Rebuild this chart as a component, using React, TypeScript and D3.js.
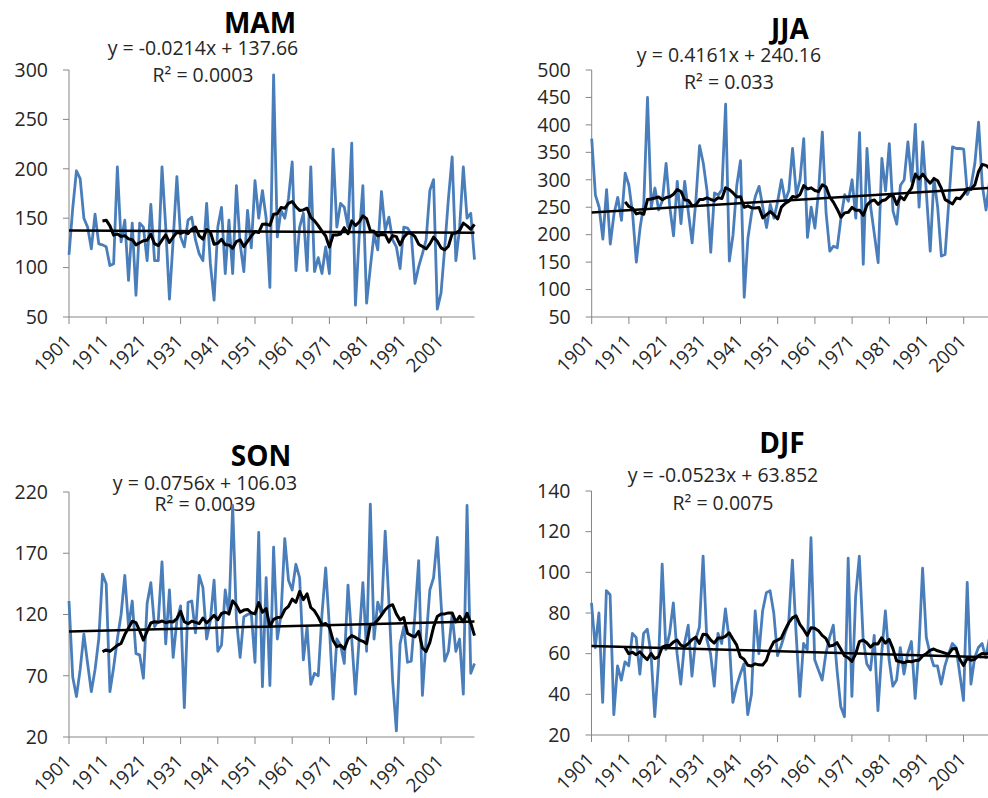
import React from "react";
import * as d3 from "d3";

// seasonal series, 1901-2010
const years = d3.range(1901, 2011);
const yearTicks = [1901, 1911, 1921, 1931, 1941, 1951, 1961, 1971, 1981, 1991, 2001];

const mamValues = [
  113, 160, 198, 190, 150, 141, 119, 154, 124, 123,
  121, 102, 104, 202, 126, 148, 87, 145, 72, 145,
  141, 107, 164, 107, 107, 202, 141, 68, 128, 192,
  131, 121, 148, 151, 128, 114, 107, 165, 104, 67,
  141, 161, 94, 148, 94, 183, 124, 96, 158, 120,
  188, 150, 178, 150, 80, 295, 131, 158, 150, 170,
  207, 97, 141, 155, 97, 202, 96, 110, 94, 121,
  94, 220, 141, 165, 161, 141, 226, 62, 131, 183,
  64, 100, 134, 118, 177, 138, 151, 128, 121, 99,
  141, 140, 134, 84, 101, 114, 128, 178, 189, 58,
  74, 120, 170, 212, 107, 140, 202, 150, 155, 108,
];
const jjaValues = [
  375, 272, 250, 192, 282, 183, 238, 268, 226, 312,
  290, 238, 150, 212, 255, 450, 250, 285, 245, 262,
  330, 250, 198, 297, 220, 297, 240, 185, 262, 362,
  330, 280, 168, 276, 272, 282, 438, 152, 200, 290,
  335, 86, 194, 240, 270, 288, 250, 213, 255, 230,
  261, 300, 262, 280, 357, 273, 300, 375, 195, 250,
  212, 280, 387, 240, 170, 179, 176, 230, 273, 261,
  300, 230, 386, 146, 357, 250, 200, 149, 339, 280,
  366, 243, 219, 290, 300, 369, 297, 401, 250, 369,
  273, 170, 303, 250, 161, 164, 260, 360, 357, 357,
  356, 273, 290, 330, 405, 290, 245, 300, 330, 320,
];
const sonValues = [
  131, 69, 53, 75, 104, 80, 57, 75, 100, 153,
  145, 57, 77, 100, 120, 152, 110, 131, 88, 87,
  68, 129, 146, 110, 115, 163, 96, 140, 85, 115,
  127, 44, 130, 131, 105, 152, 142, 100, 115, 148,
  90, 95, 140, 120, 209, 116, 85, 118, 120, 121,
  81, 187, 61, 150, 62, 175, 100, 120, 182, 148,
  140, 161, 150, 83, 110, 63, 72, 70, 120, 158,
  110, 51, 100, 95, 80, 144, 100, 55, 100, 146,
  90, 210, 100, 130, 120, 188, 130, 66, 25, 96,
  110, 81, 82, 120, 164, 54, 100, 140, 150, 183,
  130, 82, 90, 120, 90, 100, 55, 209, 72, 80,
];
const djfValues = [
  85, 63, 80, 36, 91, 89, 30, 54, 47, 56,
  54, 70, 68, 50, 70, 72, 60, 29, 55, 104,
  62, 70, 85, 60, 45, 65, 74, 49, 67, 73,
  108, 67, 60, 44, 70, 65, 82, 67, 36, 44,
  50, 55, 30, 40, 81, 60, 81, 90, 91, 80,
  59, 64, 70, 75, 106, 70, 39, 65, 62, 117,
  57, 52, 47, 60, 68, 74, 52, 34, 29, 107,
  39, 88, 108, 68, 55, 52, 69, 32, 60, 81,
  57, 44, 47, 63, 50, 60, 66, 38, 62, 102,
  68, 60, 54, 54, 45, 54, 60, 65, 63, 50,
  37, 95, 45, 58, 63, 65, 58, 68, 62, 60,
];

const mamTicks = [50, 100, 150, 200, 250, 300];
const jjaTicks = [50, 100, 150, 200, 250, 300, 350, 400, 450, 500];
const sonTicks = [20, 70, 120, 170, 220];
const djfTicks = [20, 40, 60, 80, 100, 120, 140];

// linear fits as printed (x = 1..110)
const mamFit = [-0.0214, 137.66];
const jjaFit = [0.4161, 240.16];
const sonFit = [0.0756, 106.03];
const djfFit = [-0.0523, 63.852];
const r2Labels = ["0.0003", "0.033", "0.0039", "0.0075"];

const panels = [
  { title: "MAM", values: mamValues, ticks: mamTicks, fit: mamFit, r2: r2Labels[0],
    left: 69, top: 70, bottom: 317, titleX: 260, titleY: 33, eqX: 203, eqY: 55, r2Y: 82 },
  { title: "JJA", values: jjaValues, ticks: jjaTicks, fit: jjaFit, r2: r2Labels[1],
    left: 591.7, top: 70, bottom: 317, titleX: 790, titleY: 39, eqX: 729, eqY: 62, r2Y: 89 },
  { title: "SON", values: sonValues, ticks: sonTicks, fit: sonFit, r2: r2Labels[2],
    left: 69, top: 492, bottom: 737, titleX: 261, titleY: 466, eqX: 205, eqY: 490, r2Y: 511 },
  { title: "DJF", values: djfValues, ticks: djfTicks, fit: djfFit, r2: r2Labels[3],
    left: 591.5, top: 491, bottom: 735, titleX: 782, titleY: 453, eqX: 723, eqY: 482, r2Y: 510 },
];

const font = "'Open Sans', sans-serif";
const axisColor = "#868686";
const blue = "#4a7ebb";

function Panel({ p }: { p: (typeof panels)[number] }) {
  const x = d3.scalePoint<number>().domain(years).range([p.left, p.left + 3.72 * 109]);
  const y = d3
    .scaleLinear()
    .domain([p.ticks[0], p.ticks[p.ticks.length - 1]])
    .range([p.bottom, p.top]);

  const raw = d3
    .line<number>()
    .x((_, i) => x(years[i])!)
    .y((d) => y(d));

  // 10 year moving average, like the Excel trendline
  const ma = p.values.map((_, i) => (i < 9 ? null : d3.mean(p.values.slice(i - 9, i + 1))!));
  const maLine = d3
    .line<number | null>()
    .defined((d) => d != null)
    .x((_, i) => x(years[i])!)
    .y((d) => y(d as number));

  const ends = [years[0], years[years.length - 1]];
  const trend = d3
    .line<number>()
    .x((yr) => x(yr)!)
    .y((yr) => y(p.fit[0] * (yr - 1900) + p.fit[1]));

  const right = p.left + 3.72 * 109;

  return (
    <g fontFamily={font}>
      <text x={p.titleX} y={p.titleY} textAnchor="middle" fontSize={28} fontWeight="bold" fill="#000">
        {p.title}
      </text>
      <text x={p.eqX} y={p.eqY} textAnchor="middle" fontSize={19.5} fill="#262626">
        {`y = ${p.fit[0]}x + ${p.fit[1]}`}
      </text>
      <text x={p.eqX} y={p.r2Y} textAnchor="middle" fontSize={19.5} fill="#262626">
        {`R² = ${p.r2}`}
      </text>

      {/* y axis */}
      <line x1={p.left} x2={p.left} y1={p.top} y2={p.bottom} stroke={axisColor} />
      {p.ticks.map((t) => (
        <g key={t}>
          <line x1={p.left - 6} x2={p.left} y1={y(t)} y2={y(t)} stroke={axisColor} />
          <text x={p.left - 21} y={y(t)} dy="0.35em" textAnchor="end" fontSize={19.5} fill="#262626">
            {t}
          </text>
        </g>
      ))}

      {/* x axis */}
      <line x1={p.left} x2={right} y1={p.bottom} y2={p.bottom} stroke={axisColor} />
      {yearTicks.map((yr) => (
        <g key={yr}>
          <line x1={x(yr)} x2={x(yr)} y1={p.bottom} y2={p.bottom + 7} stroke={axisColor} />
          <text
            transform={`translate(${x(yr)! - 1},${p.bottom + 21}) rotate(-45)`}
            dy="0.35em"
            textAnchor="end"
            fontSize={19}
            fill="#262626"
          >
            {yr}
          </text>
        </g>
      ))}

      <path d={raw(p.values)!} fill="none" stroke={blue} strokeWidth={2.8} strokeLinejoin="round" />
      <path d={maLine(ma)!} fill="none" stroke="#000" strokeWidth={3} strokeLinejoin="round" />
      <path d={trend(ends)!} fill="none" stroke="#000" strokeWidth={2.5} />
    </g>
  );
}

export default function App() {
  return (
    <div style={{ position: "absolute", left: 0, top: 0 }}>
      <svg width={988} height={798} style={{ display: "block", background: "#fff" }}>
        {panels.map((p) => (
          <Panel key={p.title} p={p} />
        ))}
      </svg>
    </div>
  );
}
